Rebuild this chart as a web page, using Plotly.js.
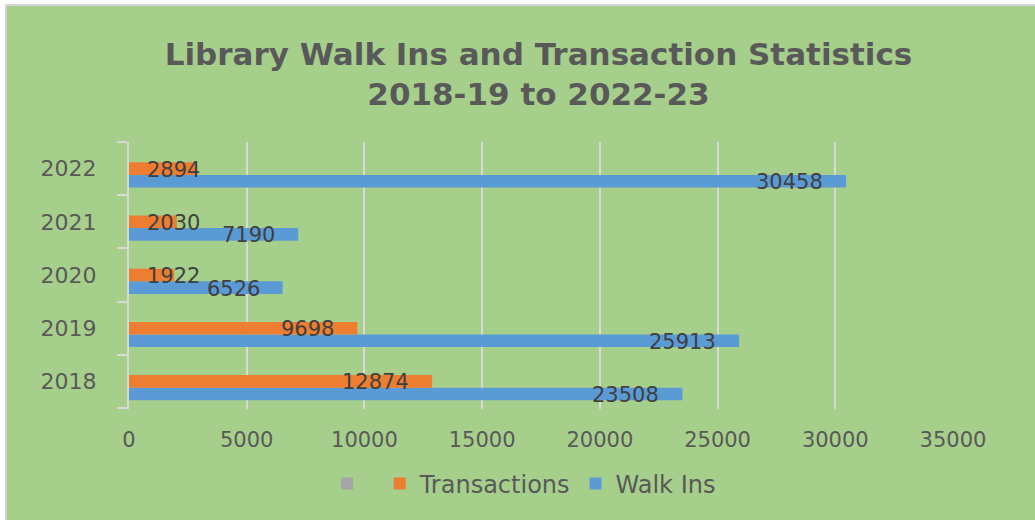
<!DOCTYPE html>
<html>
<head>
<meta charset="utf-8">
<script src="https://cdn.plot.ly/plotly-3.0.1.min.js"></script>
<style>
  html, body { margin: 0; padding: 0; background: #ffffff; }
  #chart {
    position: absolute; left: 5px; top: 4px;
    width: 1028px; height: 514px;
    border-left: 2px solid #d4d4d4; border-top: 2px solid #d4d4d4;
  }
</style>
</head>
<body>
<div id="chart"></div>
<script>
// ---- data ----
const years = ["2018", "2019", "2020", "2021", "2022"];
const walkIns = [23508, 25913, 6526, 7190, 30458];
const transactions = [12874, 9698, 1922, 2030, 2894];
const emptySeries = [null, null, null, null, null];
const xTickValues = [0, 5000, 10000, 15000, 20000, 25000, 30000, 35000];
const xTickText = ["0", "5000", "10000", "15000", "20000", "25000", "30000", "35000"];

const titleText = "Library Walk Ins and Transaction Statistics<br>2018-19 to 2022-23";

// ---- styling ----
const bg = "#a6cf8c";
const gridCol = "#d9d9d9";
const textCol = "#595959";
const labelCol = "#404040";
const blue = "#5b9bd5";
const orange = "#ed7d31";
const grey = "#a5a5a5";

const W = 1028, H = 514;
const margin = {l: 122, r: 82, t: 136, b: 111, pad: 0};
const xMax = 35000;
const bargap = 0.29;
const nSeries = 3;
const barUnits = (1 - bargap) / nSeries;

const traces = [
  {type: "bar", orientation: "h", name: "Walk Ins", y: years, x: walkIns,
   marker: {color: blue}, hoverinfo: "x"},
  {type: "bar", orientation: "h", name: "Transactions", y: years, x: transactions,
   marker: {color: orange}, hoverinfo: "x"},
  {type: "bar", orientation: "h", name: " ", y: years, x: emptySeries,
   marker: {color: grey}, hoverinfo: "skip"}
];

// data labels (Excel "inside end" style)
const pxPerUnit = (W - margin.l - margin.r) / xMax;
const labelFont = {family: "DejaVu Sans, sans-serif", size: 21, color: labelCol};
function makeLabels(values, yOffset) {
  return values.map((v, i) => {
    const s = String(v);
    const rightEdge = v * pxPerUnit - 21;
    const width = s.length * 13.4;
    const fits = rightEdge - width >= 18;
    return {
      x: fits ? v : 0, y: i + yOffset, xref: "x", yref: "y",
      text: s, showarrow: false,
      xanchor: fits ? "right" : "left", yanchor: "middle",
      xshift: fits ? -21 : 16, yshift: -1,
      font: labelFont
    };
  });
}
const annotations = [].concat(
  makeLabels(walkIns, -barUnits),
  makeLabels(transactions, 0)
);

const layout = {
  width: W, height: H,
  paper_bgcolor: bg, plot_bgcolor: bg,
  margin: margin,
  barmode: "group", bargap: bargap, bargroupgap: 0,
  title: {
    text: titleText,
    font: {family: "DejaVu Sans, sans-serif", size: 31, color: textCol, weight: "bold"},
    x: 0.517, xref: "container", xanchor: "center",
    y: 0.885, yref: "container", yanchor: "top"
  },
  xaxis: {
    range: [0, xMax], tickmode: "array", tickvals: xTickValues, ticktext: xTickText,
    showgrid: true, gridcolor: gridCol, gridwidth: 2,
    zeroline: false, showline: false, ticks: "",
    ticklabelstandoff: 16,
    tickfont: {family: "DejaVu Sans, sans-serif", size: 21, color: textCol},
    fixedrange: true
  },
  yaxis: {
    type: "category", categoryorder: "array", categoryarray: years,
    showgrid: false, zeroline: false,
    showline: true, linecolor: gridCol, linewidth: 2,
    ticks: "outside", tickson: "boundaries", ticklen: 10, tickwidth: 2, tickcolor: gridCol,
    ticklabelstandoff: 26,
    tickfont: {family: "DejaVu Sans, sans-serif", size: 22, color: textCol},
    fixedrange: true
  },
  legend: {
    orientation: "h", traceorder: "reversed",
    x: 0.503, xref: "container", xanchor: "center",
    y: 0.07, yref: "container", yanchor: "middle",
    font: {family: "DejaVu Sans, sans-serif", size: 24, color: textCol},
    bgcolor: "rgba(0,0,0,0)", itemwidth: 30
  },
  annotations: annotations,
  showlegend: true
};

Plotly.newPlot("chart", traces, layout, {displayModeBar: false, staticPlot: true});
</script>
</body>
</html>
